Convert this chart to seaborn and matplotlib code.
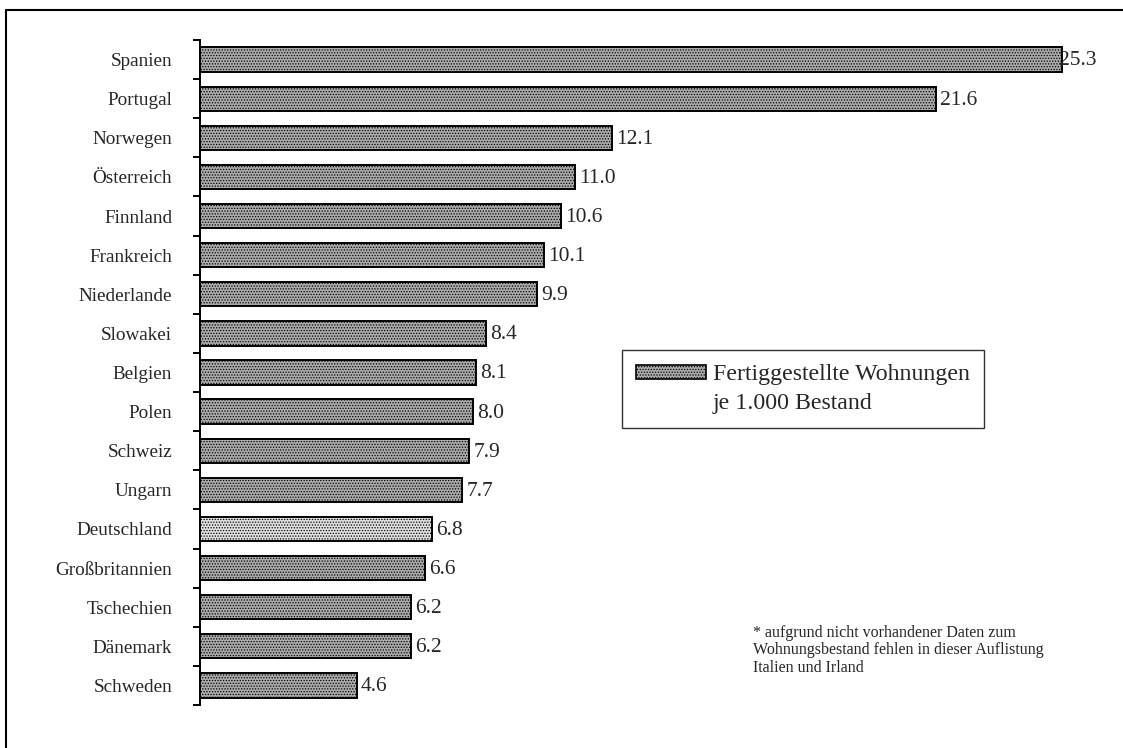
import matplotlib
matplotlib.use("Agg")
import matplotlib.pyplot as plt
import seaborn as sns
import pandas as pd
from matplotlib.patches import Patch
from matplotlib.lines import Line2D

countries = ["Spanien", "Portugal", "Norwegen", "Österreich", "Finnland", "Frankreich",
             "Niederlande", "Slowakei", "Belgien", "Polen", "Schweiz", "Ungarn",
             "Deutschland", "Großbritannien", "Tschechien", "Dänemark", "Schweden"]
values = [25.3, 21.6, 12.1, 11.0, 10.6, 10.1, 9.9, 8.4, 8.1, 8.0, 7.9, 7.7,
          6.8, 6.6, 6.2, 6.2, 4.6]
legend_lines = ["Fertiggestellte Wohnungen", "je 1.000 Bestand"]
footnote = ("* aufgrund nicht vorhandener Daten zum\n"
            "Wohnungsbestand fehlen in dieser Auflistung\n"
            "Italien und Irland")

sns.set_style("white")
plt.rcParams["font.family"] = ["Liberation Serif", "DejaVu Serif"]
plt.rcParams["hatch.linewidth"] = 0.6

df = pd.DataFrame({"Land": countries, "Wert": values})
base = "#ababab"
light = "#e0e0e0"
palette = {c: (light if c == "Deutschland" else base) for c in countries}

fig = plt.figure(figsize=(11.23, 7.48), dpi=100)
ax = fig.add_axes([200 / 1123, 1 - 705 / 748, 903 / 1123, (705 - 40) / 748])

sns.barplot(data=df, y="Land", x="Wert", hue="Land", palette=palette, orient="h",
            width=0.62, legend=False, ax=ax, edgecolor="black", linewidth=1.4,
            saturation=1)
for p in ax.patches:
    p.set_hatch("......")
    p.set_edgecolor("black")

ax.set_xlim(0, 26.5)
ax.set_ylim(len(countries) - 0.5, -0.5)

for i, v in enumerate(values):
    ax.annotate(f"{v:.1f}", xy=(v, i), xytext=(3 if i else -2, -1), textcoords="offset points",
                va="center", ha="left", fontsize=15.5)

ax.set_xlabel("")
ax.set_ylabel("")
ax.set_xticks([])
ax.set_yticks(range(len(countries)))
ax.set_yticklabels(countries, fontsize=13.8)
ax.tick_params(axis="y", which="major", left=False, length=0, pad=20)
ax.set_yticks([i - 0.5 for i in range(len(countries) + 1)], minor=True)
ax.tick_params(axis="y", which="minor", left=True, length=5, width=1.4,
               direction="out", color="black")
for s in ["top", "right", "bottom"]:
    ax.spines[s].set_visible(False)
ax.spines["left"].set_linewidth(1.4)
ax.spines["left"].set_color("black")

handle = Patch(facecolor=base, edgecolor="black", hatch="......", linewidth=1.2)
blank = Patch(facecolor="none", edgecolor="none")
leg = fig.legend([handle, blank], legend_lines, loc="upper left",
                 bbox_to_anchor=(622 / 1123, 1 - 350 / 748), fontsize=17.2,
                 frameon=True, fancybox=False, edgecolor="black",
                 handlelength=2.9, handleheight=0.5, handletextpad=0.3,
                 borderpad=0.6, borderaxespad=0, labelspacing=0.3)
leg.get_frame().set_linewidth(1.0)

fig.text(753 / 1123, 1 - 625 / 748, footnote, fontsize=11.5, va="top", ha="left",
         linespacing=1.12)

fig.add_artist(Line2D([6 / 1123, 1], [1 - 10 / 748] * 2, color="black", lw=1.5,
                      transform=fig.transFigure))
fig.add_artist(Line2D([6 / 1123] * 2, [0, 1 - 10 / 748], color="black", lw=1.5,
                      transform=fig.transFigure))

fig.savefig("out.png", dpi=100)
